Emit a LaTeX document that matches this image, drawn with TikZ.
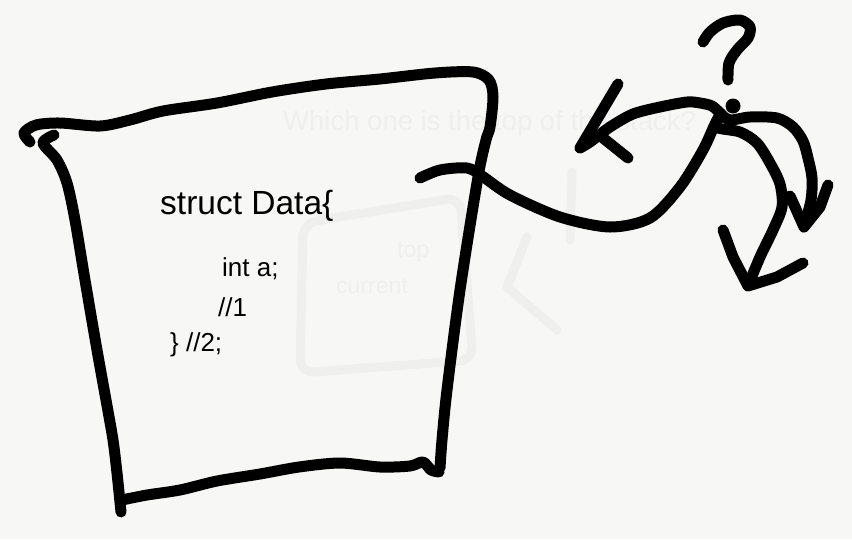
\documentclass[tikz,border=0pt]{standalone}
\usepackage{fontspec}
\setmainfont{Liberation Sans}
\usetikzlibrary{calc}
\definecolor{paperBg} {HTML}{F7F7F5}
\definecolor{ghostInk}{HTML}{EFEFED}
\definecolor{penInk}  {HTML}{000000}
\tikzset{
  pen/.style      = {draw=penInk, line width=11pt, line cap=round, line join=round},
  ghost/.style    = {draw=ghostInk, line width=9pt, line cap=round, line join=round},
  ghosttext/.style= {text=ghostInk, inner sep=0pt, anchor=base west,
                     font=\fontsize{27.5}{32}\selectfont},
  codehead/.style = {inner sep=0pt, anchor=base west, font=\fontsize{33.5}{40}\selectfont},
  code/.style     = {inner sep=0pt, anchor=base west, font=\fontsize{26}{30}\selectfont},
}

\begin{document}
\begin{tikzpicture}[x=1pt, y=-1pt]

% Paper
\fill[paperBg] (0,0) rectangle (852,539);
\useasboundingbox (0,0) rectangle (852,539);

% Faint show-through
\node[ghosttext] (gq) at (283,130) {Which one is the top of the stack?};
\node[ghosttext, font=\fontsize{23}{26}\selectfont] (gtop) at (397,257) {top};
\node[ghosttext, font=\fontsize{23}{26}\selectfont] (gcur) at (336,293) {current};
\draw[ghost, rounded corners=14pt] (303,223) -- (460,197) -- (473,360) -- (300,373) -- cycle;
\draw[ghost] (527,237) -- (507,287) -- (557,330);
\draw[ghost] (572,172) -- (570,240);

% Named points of the sketch
\coordinate (structEnd) at (420,178);
\coordinate (hub)       at (721,114);
\coordinate (leftTip)   at (580,148);
\coordinate (outerTip)  at (804,227);
\coordinate (innerTip)  at (748,286);

% Box: top and right side
\draw[pen] plot[smooth, tension=0.5] coordinates {
  (30,142) (24,133) (36,125) (60,123) (100,126) (130,120) (163,111) (217,103)
  (272,92) (326,84) (380,79) (435,73) (473,72) (489,80) (493,97) (490,127)
  (486,140) (478,177) (460,290) (447,390) (442,440) (440,468)};
% left side
\draw[pen] plot[smooth, tension=0.5] coordinates {
  (54,135) (43,143) (57,160) (67,183) (75,220) (85,280) (97,350) (106,400)
  (113,440) (117,473) (121,512)};
% bottom
\draw[pen] plot[smooth, tension=0.5] coordinates {
  (122,500) (147,495) (180,490) (217,481) (260,474) (299,467) (340,463)
  (380,467) (410,466) (423,462) (431,470) (439,472)};

% Code
\node[codehead] (head)  at (160,214) {struct Data\{};
\node[code]     (field) at (222,276) {int a;};
\node[code]     (mark1) at (218,316) {//1};
\node[code]     (close) at (170,351) {\} //2;};

% Squiggle out of the box
\draw[pen] plot[smooth, tension=0.5] coordinates {
  (structEnd) (440,170) (467,168) (482,176) (510,195) (560,217) (610,227)
  (650,218) (680,187) (703,150) (715,124) (hub)};

% Arrow to the left
\draw[pen] plot[smooth, tension=0.5] coordinates {
  (hub) (712,106) (700,103) (687,102) (660,107) (633,114) (610,127) (590,142) (leftTip)};
\draw[pen] (618,84) -- (leftTip);
\draw[pen] (628,158) -- (603,138);

% Question mark
\draw[pen] plot[smooth, tension=0.5] coordinates {
  (703,42) (710,32) (723,23) (740,20) (750,27) (748,38) (737,50) (729,63) (728,80)};
\fill[penInk] (733,106) circle (7.5pt);

% Two arrows going down
\draw[pen] plot[smooth, tension=0.5] coordinates {
  (hub) (730,120) (750,117) (777,118) (793,127) (803,141) (808,158) (812,178)
  (811,200) (outerTip)};
\draw[pen] (790,196) -- (outerTip) -- (820,207) -- (828,185);
\draw[pen] plot[smooth, tension=0.5] coordinates {
  (hub) (716,127) (740,132) (757,143) (770,163) (780,184) (782,207) (773,230)
  (760,257) (innerTip)};
\draw[pen] (723,230) -- (733,257) -- (innerTip) -- (777,277) -- (803,263);

\end{tikzpicture}
\end{document}
